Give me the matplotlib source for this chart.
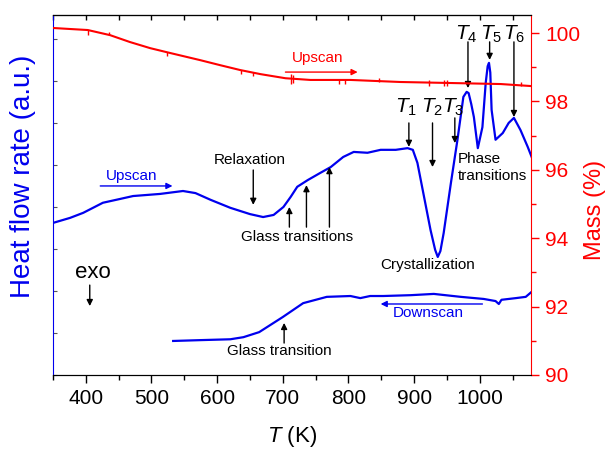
import matplotlib
matplotlib.use("Agg")
import matplotlib.pyplot as plt
from matplotlib.ticker import MultipleLocator

plt.rcParams['font.family'] = ['Liberation Sans', 'DejaVu Sans']
plt.rcParams['mathtext.fontset'] = 'custom'
plt.rcParams['mathtext.rm'] = 'Liberation Sans'
plt.rcParams['mathtext.it'] = 'Liberation Sans:italic'

# upscan heat flow (a.u.)
up_T = [350, 376, 396, 426, 452, 472, 513, 548, 567, 590, 620, 650, 670, 686, 701,
        712, 722, 738, 757, 773, 792, 808, 829, 849, 872, 890, 898, 905, 914, 925,
        932, 936, 940, 945, 956, 966, 975, 980, 983, 987, 991, 997, 1004, 1009, 1012,
        1014, 1016, 1018, 1024, 1035, 1044, 1052, 1062, 1073, 1079]
up_hf = [3.62, 3.74, 3.86, 4.10, 4.19, 4.26, 4.31, 4.38, 4.33, 4.17, 3.98, 3.83, 3.76, 3.81, 4.00,
         4.24, 4.48, 4.64, 4.81, 4.95, 5.19, 5.31, 5.29, 5.36, 5.36, 5.40, 5.36, 5.05, 4.33, 3.45,
         2.98, 2.81, 2.95, 3.38, 4.57, 5.60, 6.62, 6.74, 6.71, 6.45, 6.14, 5.40, 5.90, 6.95, 7.35,
         7.43, 7.20, 6.31, 5.60, 5.76, 6.00, 6.12, 5.83, 5.43, 5.19]

# downscan heat flow (a.u.)
down_T = [533, 575, 620, 640, 664, 700, 731, 767, 803, 818, 833, 853, 895, 930, 971,
          1006, 1024, 1029, 1033, 1055, 1070, 1079]
down_hf = [0.81, 0.83, 0.85, 0.90, 1.02, 1.38, 1.71, 1.86, 1.88, 1.83, 1.88, 1.88, 1.90, 1.93, 1.86,
           1.81, 1.76, 1.69, 1.79, 1.83, 1.86, 1.98]

# mass (%)
mass_T = [350, 376, 403, 437, 467, 498, 528, 574, 605, 635, 666, 704, 742, 803, 879, 956, 1032, 1079]
mass = [100.15, 100.12, 100.09, 99.94, 99.74, 99.56, 99.42, 99.21, 99.06, 98.92, 98.80, 98.68,
        98.63, 98.63, 98.57, 98.54, 98.51, 98.45]
spike_T = [403, 435, 524, 637, 655, 713, 716, 786, 794, 846, 922, 945, 950, 1063]
spike_lo = [99.95, 99.93, 99.33, 98.80, 98.75, 98.52, 98.55, 98.50, 98.50, 98.56, 98.44, 98.46, 98.45, 98.45]
spike_hi = [100.10, 100.02, 99.46, 98.93, 98.86, 98.80, 98.76, 98.66, 98.66, 98.68, 98.62, 98.64, 98.62, 98.58]

blue = '#0000ee'
red = '#ff0000'

fig = plt.figure(figsize=(6.07, 4.5), dpi=100)
ax = fig.add_axes([0.0873, 0.1667, 0.7875, 0.8])
ax2 = ax.twinx()

ax.plot(up_T, up_hf, color=blue, lw=1.6, zorder=3)
ax.plot(down_T, down_hf, color=blue, lw=1.6, zorder=3)
ax2.plot(mass_T, mass, color=red, lw=1.5)
ax2.vlines(spike_T, spike_lo, spike_hi, color=red, lw=1.0)

ax.set_xlim(350, 1078)
ax.set_ylim(0, 8.57)
ax2.set_ylim(90, 100.53)

# x axis
ax.xaxis.set_major_locator(MultipleLocator(100))
ax.xaxis.set_minor_locator(MultipleLocator(50))
ax.tick_params(axis='x', which='major', direction='out', length=6, width=1, labelsize=15, pad=4)
ax.tick_params(axis='x', which='minor', direction='out', length=3.5, width=1)
top = ax.secondary_xaxis('top')
top.xaxis.set_major_locator(MultipleLocator(50))
top.tick_params(axis='x', direction='in', length=3.5, width=1, labeltop=False)
ax.set_xlabel(r'$T$ (K)', fontsize=16)
ax.xaxis.set_label_coords(0.5, -0.135)

# left axis
ax.yaxis.set_major_locator(MultipleLocator(1))
ax.tick_params(axis='y', direction='in', length=3, width=0.8, color='#555555', labelleft=False)
ax.spines['left'].set_color(blue)
ax.spines['right'].set_visible(False)
ax.set_ylabel('Heat flow rate (a.u.)', color=blue, fontsize=20)
ax.yaxis.set_label_coords(-0.035, 0.553)

# right axis
ax2.spines['right'].set_color(red)
ax2.spines['left'].set_visible(False)
ax2.yaxis.set_major_locator(MultipleLocator(2))
ax2.yaxis.set_minor_locator(MultipleLocator(1))
ax2.tick_params(axis='y', which='major', colors=red, direction='out', length=6, width=1, labelsize=15, pad=4)
ax2.tick_params(axis='y', which='minor', colors=red, direction='out', length=3.5, width=1)
ax2.set_ylabel('Mass (%)', color=red, fontsize=17)
ax2.yaxis.set_label_coords(1.111, 0.458)

arr = dict(arrowstyle='-|>', color='black', lw=1.0, mutation_scale=9, shrinkA=0, shrinkB=0)
fs = 11

# upscan labels
ax.text(470, 4.74, 'Upscan', color=blue, fontsize=fs, ha='center', va='center')
ax.annotate('', xy=(532, 4.50), xytext=(422, 4.50),
            arrowprops=dict(arr, color=blue))
ax2.text(753, 99.27, 'Upscan', color=red, fontsize=fs, ha='center', va='center')
ax2.annotate('', xy=(814, 98.86), xytext=(704, 98.86),
             arrowprops=dict(arr, color=red))

ax.text(650, 5.12, 'Relaxation', fontsize=fs, ha='center', va='center')
ax.annotate('', xy=(655, 4.05), xytext=(655, 4.88), arrowprops=arr)

ax.text(722, 3.29, 'Glass transitions', fontsize=fs, ha='center', va='center')
for gx, gy in [(710, 4.00), (736, 4.52), (771, 4.95)]:
    ax.annotate('', xy=(gx, gy), xytext=(gx, 3.52), arrowprops=arr)

ax.text(921, 2.62, 'Crystallization', fontsize=fs, ha='center', va='center')
ax.text(966, 4.94, 'Phase\ntransitions', fontsize=fs, ha='left', va='center', linespacing=1.25)

# T labels
t_lab = [r'$T_1$', r'$T_2$', r'$T_3$', r'$T_4$', r'$T_5$', r'$T_6$']
t_lx = [887, 928, 959, 980, 1017, 1052]
t_ly = [6.38, 6.38, 6.38, 8.12, 8.12, 8.12]
t_ax = [892, 928, 962, 982, 1015, 1052]
t_y0 = [6.00, 6.00, 6.12, 7.93, 7.93, 7.93]
t_y1 = [5.43, 4.95, 5.52, 6.83, 7.50, 6.14]
for lab, lx, ly, axx, y0, y1 in zip(t_lab, t_lx, t_ly, t_ax, t_y0, t_y1):
    ax.text(lx, ly, lab, fontsize=15, ha='center', va='center')
    ax.annotate('', xy=(axx, y1), xytext=(axx, y0), arrowprops=arr)

# downscan labels
ax.text(922, 1.48, 'Downscan', color=blue, fontsize=fs, ha='center', va='center')
ax.annotate('', xy=(849, 1.69), xytext=(1004, 1.69), arrowprops=dict(arr, color=blue))
ax.text(695, 0.57, 'Glass transition', fontsize=fs, ha='center', va='center')
ax.annotate('', xy=(702, 1.24), xytext=(702, 0.76), arrowprops=arr)

ax.text(411, 2.45, 'exo', fontsize=16, ha='center', va='center')
ax.annotate('', xy=(406, 1.64), xytext=(406, 2.14), arrowprops=arr)

fig.savefig('out.png', dpi=100)
